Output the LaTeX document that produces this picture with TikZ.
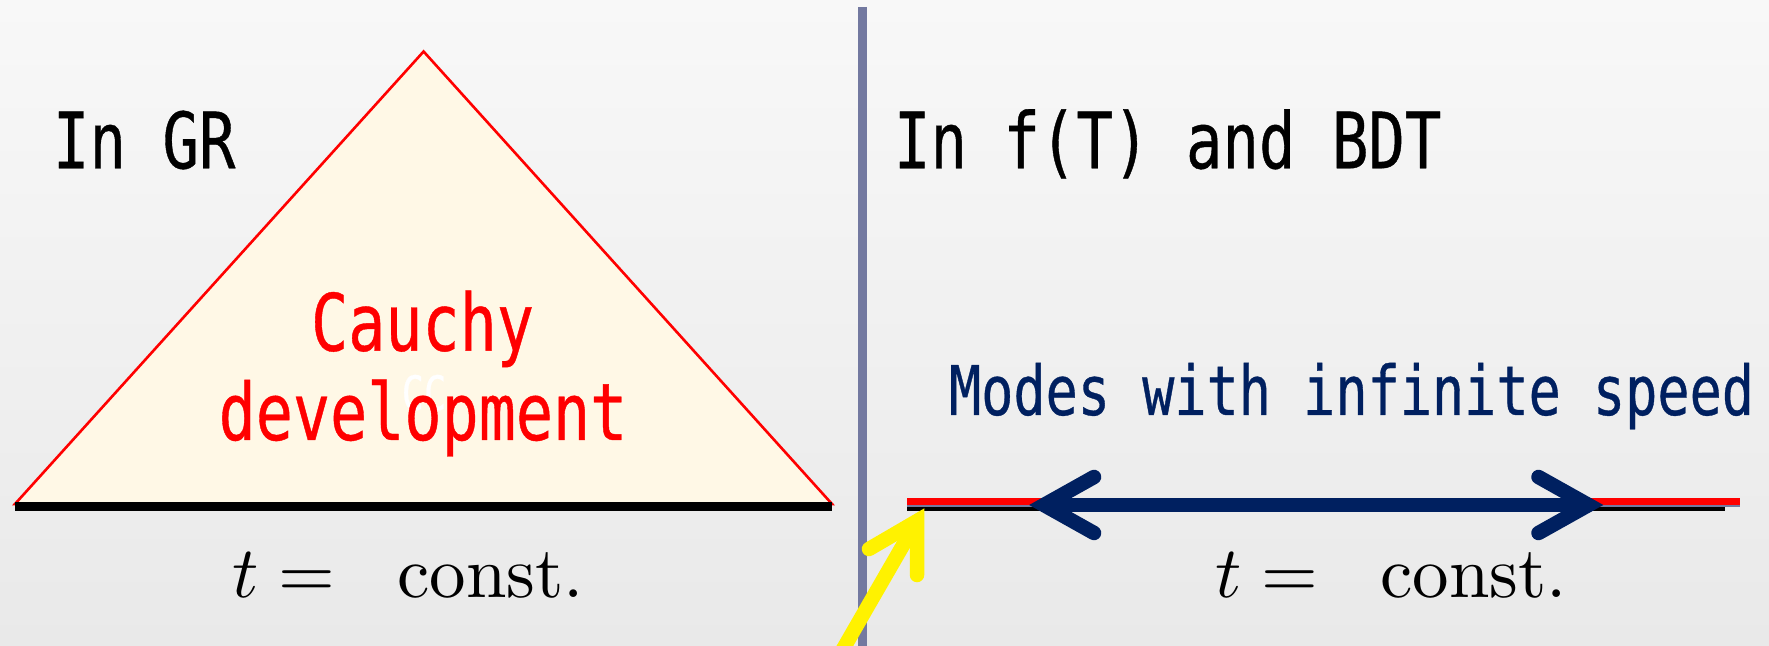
\documentclass[tikz,border=0pt]{standalone}
\usepackage{graphicx}
\usepackage{fontspec}
\newfontfamily\gothic[FakeStretch=0.78,FakeBold=0.5]{DejaVu Sans Mono}
\definecolor{navy}{HTML}{002060}
\definecolor{slate}{HTML}{7379A0}
\definecolor{cream}{HTML}{FFF8E6}
\definecolor{bgtop}{HTML}{F8F8F8}
\definecolor{bgbot}{HTML}{E9E9E9}
\newcommand{\tconst}{\scalebox{2.074}{\fontsize{10pt}{12pt}\selectfont$t =$\hspace{0.85em}const.}}
\tikzset{
  lbl/.style={inner sep=0pt, outer sep=0pt},
  bigtext/.style={lbl, font=\gothic\fontsize{22.1pt}{26pt}\selectfont},
  redtext/.style={lbl, font=\gothic\fontsize{22.5pt}{26pt}\selectfont, text=red},
  midtext/.style={lbl, font=\gothic\fontsize{19.5pt}{23pt}\selectfont, text=navy},
  mathtext/.style={lbl},
  fatarrow/.style={line width=0.145cm, line cap=round, line join=miter},
}
\begin{document}
\begin{tikzpicture}[x=0.01cm, y=-0.01cm]
\useasboundingbox (0,0) rectangle (1769,646);
\clip (0,0) rectangle (1769,646);
\shade[top color=bgtop, bottom color=bgbot] (0,0) rectangle (1769,646);

% separator
\coordinate (sepT) at (862,7);
\coordinate (sepB) at (862,660);
\draw[slate, line width=0.09cm] (sepT) -- (sepB);

% left: Cauchy development triangle
\coordinate (tl) at (15,504);
\coordinate (ta) at (423.6,51.5);
\coordinate (tr) at (832,504);
\filldraw[fill=cream, draw=red, line width=0.026cm, line join=miter] (tl) -- (ta) -- (tr) -- cycle;
\coordinate (bl) at (15,506.3);
\coordinate (br) at (832,506.3);
\draw[black, line width=0.087cm] (bl) -- (br);

\node[bigtext, anchor=base west] (ingr) at (53,168.3) {In GR};
\node[lbl, anchor=base, text=white, font=\gothic\fontsize{13.5pt}{16pt}\selectfont] (cc) at (424,410) {CC};
\node[redtext, anchor=base] (cauchy) at (422.5,350.7) {Cauchy};
\node[redtext, anchor=base] (devel) at (423,440) {development};
\node[mathtext, anchor=base west] (tconstL) at (232,598) {\tconst};

% right
\node[bigtext, anchor=base west] (inft) at (894,168.3) {In f(T) and BDT};
\node[midtext, anchor=base west] (modes) at (949,415) {Modes with infinite speed};
\node[mathtext, anchor=base west] (tconstR) at (1215,597) {\tconst};

\coordinate (kL) at (907,508.8);
\coordinate (kR) at (1725,508.8);
\coordinate (gL) at (907,505.5);
\coordinate (gR) at (1740,505.5);
\coordinate (rL) at (907,501.3);
\coordinate (rR) at (1740,501.3);
\draw[black, line width=0.043cm] (kL) -- (kR);
\draw[slate, line width=0.024cm] (gL) -- (gR);
\draw[red, line width=0.073cm] (rL) -- (rR);

% navy double arrow
\coordinate (lv) at (1044,505);
\coordinate (la1) at (1094,477);
\coordinate (la2) at (1094,533);
\coordinate (rv) at (1588.5,505);
\coordinate (ra1) at (1538.5,477);
\coordinate (ra2) at (1538.5,533);
\draw[navy, line width=0.147cm] (lv) -- (rv);
\draw[navy, fatarrow] (la1) -- (lv) -- (la2);
\draw[navy, fatarrow] (ra1) -- (rv) -- (ra2);

% yellow arrow
\coordinate (ys) at (831,670);
\coordinate (yv) at (917,521);
\coordinate (ya1) at (869,549);
\coordinate (ya2) at (917,575);
\draw[yellow, line width=0.145cm] (ys) -- (yv);
\draw[yellow, fatarrow] (ya1) -- (yv) -- (ya2);
\end{tikzpicture}
\end{document}
